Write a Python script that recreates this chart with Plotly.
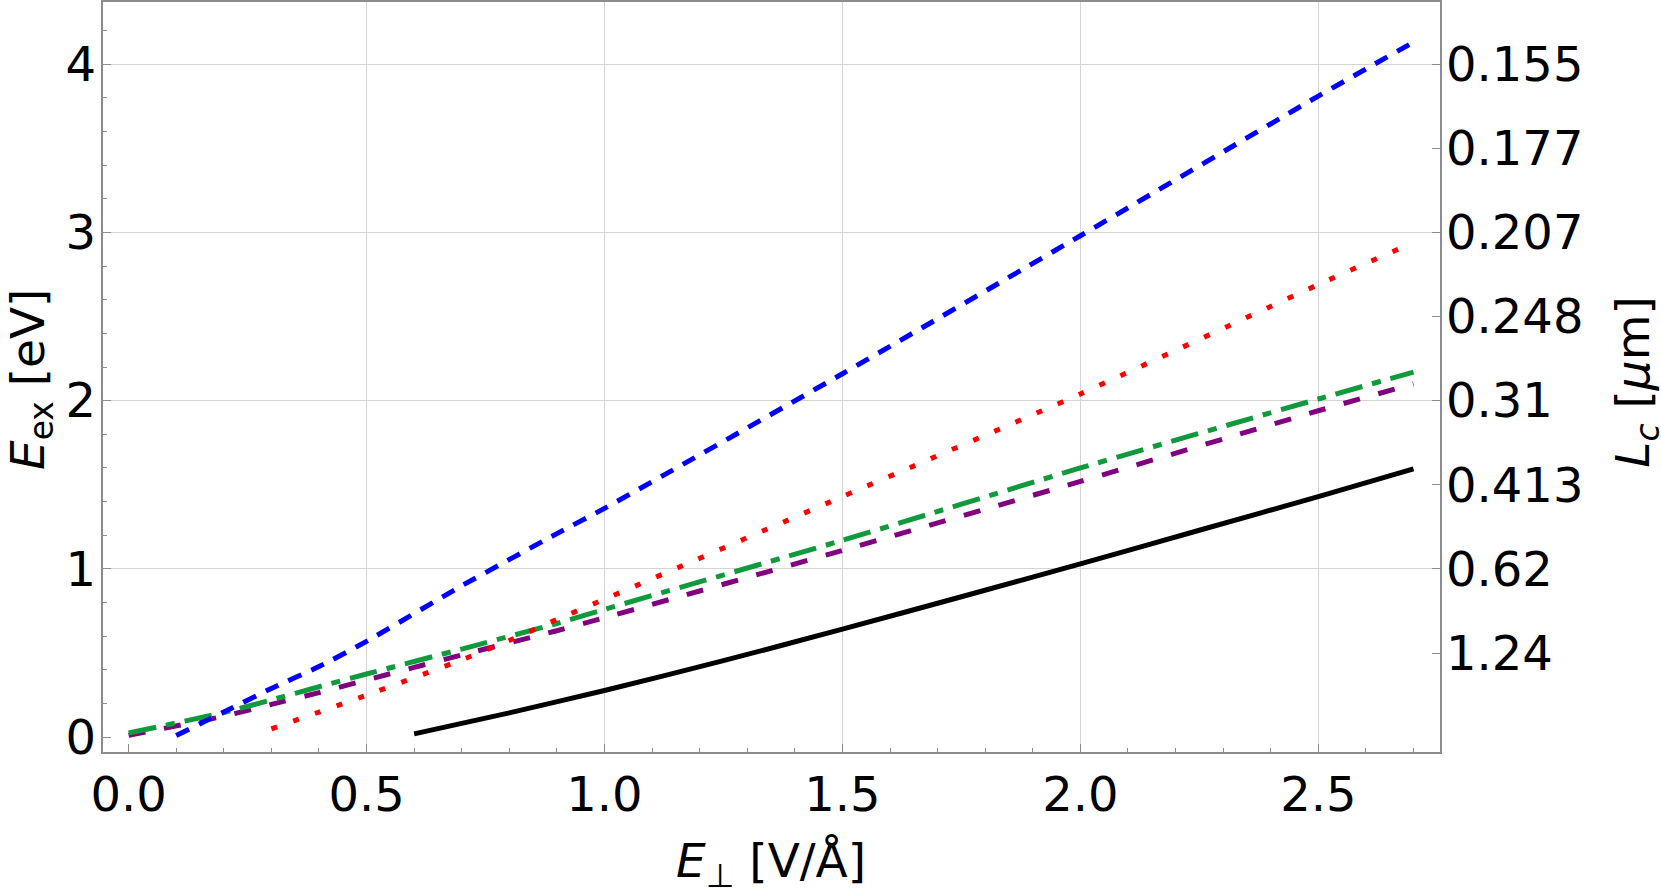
import plotly.graph_objects as go

# ---- data ----
blue_x = [0.1, 0.2, 0.3, 0.4, 0.5, 0.7, 0.9, 1.0, 1.5, 2.0, 2.5, 2.7]
blue_y = [0.01, 0.15, 0.29, 0.42, 0.57, 0.90, 1.21, 1.36, 2.16, 2.98, 3.81, 4.13]

red_x = [0.3, 0.5, 0.7, 0.8, 0.9, 1.0, 1.5, 2.0, 2.5, 2.7]
red_y = [0.05, 0.25, 0.46, 0.575, 0.70, 0.82, 1.43, 2.04, 2.69, 2.94]

green_x = [0.0, 0.2, 0.3, 0.4, 0.5, 0.7, 0.9, 1.0, 1.5, 2.0, 2.5, 2.7]
green_y = [0.025, 0.147, 0.222, 0.30, 0.376, 0.524, 0.676, 0.76, 1.17, 1.60, 2.01, 2.17]

purple_x = [0.0, 0.2, 0.3, 0.4, 0.5, 0.7, 0.9, 1.0, 1.5, 2.0, 2.5, 2.7]
purple_y = [0.011, 0.125, 0.195, 0.265, 0.34, 0.489, 0.633, 0.71, 1.11, 1.52, 1.94, 2.10]

black_x = [0.6, 0.8, 1.0, 1.25, 1.5, 1.75, 2.0, 2.25, 2.5, 2.7]
black_y = [0.02, 0.145, 0.278, 0.455, 0.642, 0.835, 1.03, 1.23, 1.43, 1.595]

x_ticks = [0.0, 0.5, 1.0, 1.5, 2.0, 2.5]
x_ticklabels = ["0.0", "0.5", "1.0", "1.5", "2.0", "2.5"]
y_ticks = [0, 1, 2, 3, 4]
y_ticklabels = ["0", "1", "2", "3", "4"]
x_grid = [0.5, 1.0, 1.5, 2.0, 2.5]
y_grid = [1, 2, 3, 4]
r_ticks = [4.0, 3.5, 3.0, 2.5, 2.0, 1.5, 1.0, 0.5]
r_ticklabels = ["0.155", "0.177", "0.207", "0.248", "0.31", "0.413", "0.62", "1.24"]

X_RANGE = [-0.0538, 2.7557]
Y_RANGE = [-0.0877, 4.369]
FONT = "DejaVu Sans"
FS = 48
TFS = 47
AXC = "#8c8c8c"

fig = go.Figure()

# empty traces so that the grid axes (x, y) and the right axis (y3) are drawn
fig.add_trace(go.Scatter(x=[], y=[], xaxis="x", yaxis="y", showlegend=False, hoverinfo="skip"))
fig.add_trace(go.Scatter(x=[], y=[], xaxis="x2", yaxis="y3", showlegend=False, hoverinfo="skip"))

def add(x, y, color, dash):
    fig.add_trace(go.Scatter(x=x, y=y, mode="lines", xaxis="x2", yaxis="y2",
                             line=dict(color=color, width=5, dash=dash, shape="spline", smoothing=0.6),
                             showlegend=False, hoverinfo="skip"))

add(black_x, black_y, "#000000", "solid")
add(purple_x, purple_y, "#800080", "17px,19px")
add(green_x, green_y, "#119A3C", "28px,10px,9px,10px")
add(red_x, red_y, "#FF0000", "6px,17px")
add(blue_x, blue_y, "#0000FF", "14px,11px")

fig.update_layout(
    width=1661, height=892,
    margin=dict(l=103, r=221, t=0, b=140),
    paper_bgcolor="white", plot_bgcolor="white",
    font=dict(family=FONT, size=FS, color="black"),
    xaxis=dict(range=X_RANGE, tickvals=x_grid, showticklabels=False, ticks="",
               showgrid=True, gridcolor="#d4d4d4", gridwidth=1, zeroline=False,
               showline=True, linecolor=AXC, linewidth=1.5, mirror=True),
    yaxis=dict(range=Y_RANGE, tickvals=y_grid, showticklabels=False, ticks="",
               showgrid=True, gridcolor="#d4d4d4", gridwidth=1, zeroline=False,
               showline=True, linecolor=AXC, linewidth=1.5, mirror=True),
    xaxis2=dict(range=X_RANGE, overlaying="x", anchor="y2", side="bottom",
                tickvals=x_ticks, ticktext=x_ticklabels, ticks="inside", ticklen=8,
                tickcolor=AXC, tickwidth=1, showgrid=False, zeroline=False,
                ticklabelstandoff=10,
                tickfont=dict(family=FONT, size=FS, color="black"),
                minor=dict(ticks="inside", ticklen=4, tickcolor=AXC, tick0=0, dtick=0.1, showgrid=False)),
    yaxis2=dict(range=Y_RANGE, overlaying="y", anchor="x2", side="left",
                tickvals=y_ticks, ticktext=y_ticklabels, ticks="inside", ticklen=8,
                tickcolor=AXC, tickwidth=1, showgrid=False, zeroline=False,
                ticklabelstandoff=6,
                tickfont=dict(family=FONT, size=FS, color="black"),
                minor=dict(ticks="inside", ticklen=4, tickcolor=AXC, tick0=0, dtick=0.2, showgrid=False)),
    yaxis3=dict(range=Y_RANGE, overlaying="y", anchor="x2", side="right",
                tickvals=r_ticks, ticktext=r_ticklabels, ticks="inside", ticklen=8,
                tickcolor=AXC, tickwidth=1, showgrid=False, zeroline=False,
                ticklabelstandoff=5,
                tickfont=dict(family=FONT, size=FS, color="black")),
)

fig.add_annotation(text="<i>E</i><sub>ex</sub> [eV]", xref="paper", yref="paper",
                   x=-0.054, y=0.497, xanchor="center", yanchor="middle",
                   textangle=-90, showarrow=False, font=dict(family=FONT, size=TFS))
fig.add_annotation(text="<i>E</i><sub>⊥</sub> [V/Å]", xref="paper", yref="paper",
                   x=0.4996, y=-0.149, xanchor="center", yanchor="middle",
                   showarrow=False, font=dict(family=FONT, size=TFS))
fig.add_annotation(text="<i>L</i><sub><i>c</i></sub> [<i>μ</i>m]", xref="paper", yref="paper",
                   x=1.147, y=0.493, xanchor="center", yanchor="middle",
                   textangle=-90, showarrow=False, font=dict(family=FONT, size=TFS))

fig.write_html("out.html")
